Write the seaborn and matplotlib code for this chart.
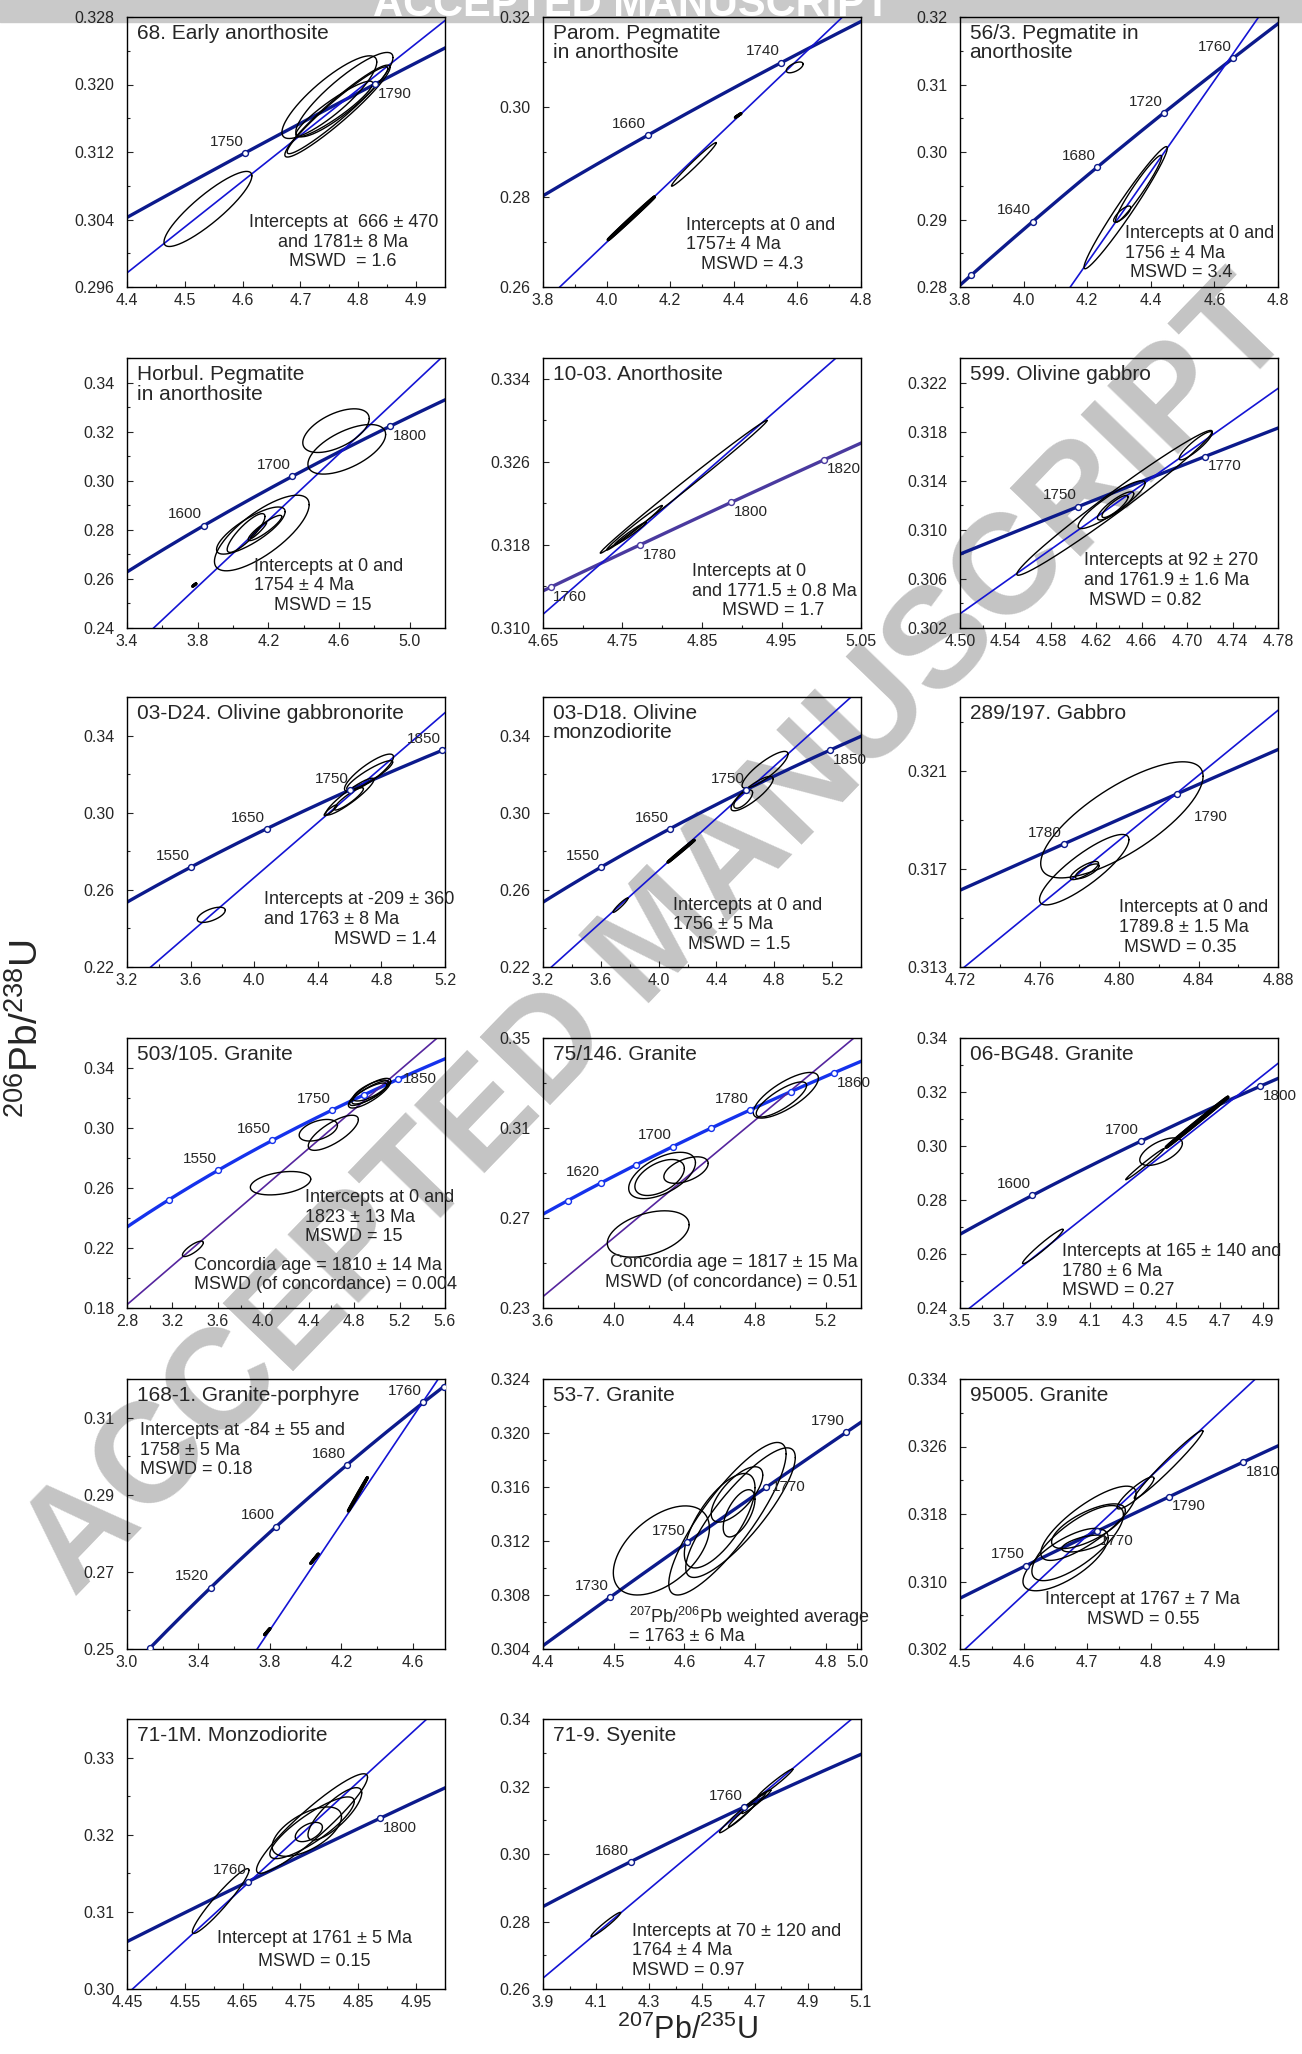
import numpy as np
import pandas as pd
import matplotlib
matplotlib.use("Agg")
import matplotlib.pyplot as plt
from matplotlib.ticker import AutoMinorLocator
import seaborn as sns

# U decay constants, 1/Ma
L238 = 1.55125e-4
L235 = 9.8485e-4

titles = [
    "68. Early anorthosite", "Parom. Pegmatite\nin anorthosite", "56/3. Pegmatite in\nanorthosite",
    "Horbul. Pegmatite\nin anorthosite", "10-03. Anorthosite", "599. Olivine gabbro",
    "03-D24. Olivine gabbronorite", "03-D18. Olivine\nmonzodiorite", "289/197. Gabbro",
    "503/105. Granite", "75/146. Granite", "06-BG48. Granite",
    "168-1. Granite-porphyre", "53-7. Granite", "95005. Granite",
    "71-1M. Monzodiorite", "71-9. Syenite",
]

xlims = [(4.4, 4.95), (3.8, 4.8), (3.8, 4.8), (3.4, 5.2), (4.65, 5.05), (4.50, 4.78),
         (3.2, 5.2), (3.2, 5.4), (4.72, 4.88), (2.8, 5.6), (3.6, 5.4), (3.5, 4.97),
         (3.0, 4.78), (4.4, 4.85), (4.5, 5.0), (4.45, 5.0), (3.9, 5.1)]
ylims = [(0.296, 0.328), (0.26, 0.32), (0.28, 0.32), (0.24, 0.35), (0.310, 0.336), (0.302, 0.324),
         (0.22, 0.36), (0.22, 0.36), (0.313, 0.324), (0.18, 0.36), (0.23, 0.35), (0.24, 0.34),
         (0.25, 0.32), (0.304, 0.324), (0.302, 0.334), (0.30, 0.335), (0.26, 0.34)]

xticks = [
    ["4.4", "4.5", "4.6", "4.7", "4.8", "4.9"],
    ["3.8", "4.0", "4.2", "4.4", "4.6", "4.8"],
    ["3.8", "4.0", "4.2", "4.4", "4.6", "4.8"],
    ["3.4", "3.8", "4.2", "4.6", "5.0"],
    ["4.65", "4.75", "4.85", "4.95", "5.05"],
    ["4.50", "4.54", "4.58", "4.62", "4.66", "4.70", "4.74", "4.78"],
    ["3.2", "3.6", "4.0", "4.4", "4.8", "5.2"],
    ["3.2", "3.6", "4.0", "4.4", "4.8", "5.2"],
    ["4.72", "4.76", "4.80", "4.84", "4.88"],
    ["2.8", "3.2", "3.6", "4.0", "4.4", "4.8", "5.2", "5.6"],
    ["3.6", "4.0", "4.4", "4.8", "5.2"],
    ["3.5", "3.7", "3.9", "4.1", "4.3", "4.5", "4.7", "4.9"],
    ["3.0", "3.4", "3.8", "4.2", "4.6"],
    ["4.4", "4.5", "4.6", "4.7", "4.8"],
    ["4.5", "4.6", "4.7", "4.8", "4.9"],
    ["4.45", "4.55", "4.65", "4.75", "4.85", "4.95"],
    ["3.9", "4.1", "4.3", "4.5", "4.7", "4.9", "5.1"],
]
yticks = [
    ["0.296", "0.304", "0.312", "0.320", "0.328"],
    ["0.26", "0.28", "0.30", "0.32"],
    ["0.28", "0.29", "0.30", "0.31", "0.32"],
    ["0.24", "0.26", "0.28", "0.30", "0.32", "0.34"],
    ["0.310", "0.318", "0.326", "0.334"],
    ["0.302", "0.306", "0.310", "0.314", "0.318", "0.322"],
    ["0.22", "0.26", "0.30", "0.34"],
    ["0.22", "0.26", "0.30", "0.34"],
    ["0.313", "0.317", "0.321"],
    ["0.18", "0.22", "0.26", "0.30", "0.34"],
    ["0.23", "0.27", "0.31", "0.35"],
    ["0.24", "0.26", "0.28", "0.30", "0.32", "0.34"],
    ["0.25", "0.27", "0.29", "0.31"],
    ["0.304", "0.308", "0.312", "0.316", "0.320", "0.324"],
    ["0.302", "0.310", "0.318", "0.326", "0.334"],
    ["0.30", "0.31", "0.32", "0.33"],
    ["0.26", "0.28", "0.30", "0.32", "0.34"],
]
# the 53-7 panel carries a "5.0" label at its right edge
extra_xtick = {13: (4.845, "5.0")}

# lower / upper intercept ages (Ma) of the discordia; None = no line
intercepts = [(666, 1781), (0, 1757), (0, 1756), (0, 1754), (0, 1771.5), (92, 1761.9),
              (-209, 1763), (0, 1756), (0, 1789.8), (0, 1823), (0, 1817), (165, 1780),
              (-84, 1758), None, (-160, 1767), (-75, 1761), (70, 1764)]

marker_ages = [
    [1750, 1790], [1660, 1740], [1600, 1640, 1680, 1720, 1760], [1600, 1700, 1800],
    [1760, 1780, 1800, 1820], [1750, 1770], [1550, 1650, 1750, 1850], [1550, 1650, 1750, 1850],
    [1780, 1790], [1450, 1550, 1650, 1750, 1800, 1850],
    [1580, 1620, 1660, 1700, 1740, 1780, 1820, 1860], [1600, 1700, 1800],
    [1440, 1520, 1600, 1680, 1760, 1780], [1730, 1750, 1770, 1790], [1750, 1770, 1790, 1810],
    [1760, 1800], [1680, 1760],
]
labelled_ages = [
    [1750, 1790], [1660, 1740], [1640, 1680, 1720, 1760], [1600, 1700, 1800],
    [1760, 1780, 1800, 1820], [1750, 1770], [1550, 1650, 1750, 1850], [1550, 1650, 1750, 1850],
    [1780, 1790], [1550, 1650, 1750, 1850], [1620, 1700, 1780, 1860], [1600, 1700, 1800],
    [1520, 1600, 1680, 1760], [1730, 1750, 1770, 1790], [1750, 1770, 1790, 1810],
    [1760, 1800], [1680, 1760],
]

# error ellipses: (xmin, xmax, ymin, ymax, rho)
ellipses = [
    [(4.464, 4.616, 0.3008, 0.3097, 0.88), (4.668, 4.832, 0.3136, 0.3234, 0.85),
     (4.692, 4.860, 0.3138, 0.3238, 0.88), (4.673, 4.855, 0.3114, 0.3223, 0.95),
     (4.677, 4.851, 0.3118, 0.3221, 0.96), (4.692, 4.825, 0.3138, 0.3204, 0.92)],
    [(4.565, 4.618, 0.3076, 0.3100, 0.6), (4.405, 4.422, 0.2977, 0.2985, 0.999),
     (4.204, 4.345, 0.2824, 0.2921, 0.985), (4.005, 4.150, 0.2705, 0.2800, 0.999)],
    [(4.190, 4.452, 0.2827, 0.3008, 0.975), (4.289, 4.434, 0.2896, 0.2995, 0.96),
     (4.283, 4.337, 0.2896, 0.2920, 0.8)],
    [(4.395, 4.771, 0.3115, 0.3293, 0.55), (4.424, 4.864, 0.3027, 0.3229, 0.6),
     (3.895, 4.431, 0.2633, 0.2941, 0.75), (3.907, 4.295, 0.2701, 0.2893, 0.8),
     (3.967, 4.181, 0.2708, 0.2866, 0.85), (4.086, 4.276, 0.2756, 0.2859, 0.9),
     (4.100, 4.190, 0.2765, 0.2830, 0.95), (3.772, 3.790, 0.2570, 0.2580, 0.999)],
    [(4.722, 4.932, 0.3172, 0.3300, 0.997), (4.730, 4.800, 0.3175, 0.3218, 0.99),
     (4.740, 4.780, 0.3180, 0.3202, 0.98)],
    [(4.550, 4.722, 0.3063, 0.3181, 0.985), (4.693, 4.722, 0.3157, 0.3180, 0.9),
     (4.604, 4.663, 0.3101, 0.3140, 0.9), (4.621, 4.653, 0.3108, 0.3131, 0.85),
     (4.625, 4.648, 0.3110, 0.3128, 0.85)],
    [(3.642, 3.818, 0.2431, 0.2510, 0.6), (4.568, 4.876, 0.3110, 0.3304, 0.85),
     (4.582, 4.871, 0.3118, 0.3270, 0.9), (4.450, 4.753, 0.2988, 0.3179, 0.92),
     (4.503, 4.687, 0.3014, 0.3130, 0.9), (4.440, 4.520, 0.2985, 0.3040, 0.9)],
    [(4.577, 4.895, 0.3127, 0.3318, 0.85), (4.501, 4.792, 0.3010, 0.3188, 0.85),
     (4.520, 4.650, 0.3023, 0.3118, 0.7), (4.065, 4.245, 0.2744, 0.2857, 0.999),
     (3.684, 3.788, 0.2483, 0.2558, 0.95)],
    [(4.7606, 4.8423, 0.31663, 0.32136, 0.75), (4.760, 4.805, 0.31553, 0.3184, 0.85),
     (4.7755, 4.7897, 0.31656, 0.3173, 0.8), (4.778, 4.790, 0.3166, 0.3172, 0.75)],
    [(3.288, 3.472, 0.2143, 0.2246, 0.8), (3.886, 4.418, 0.2554, 0.2710, 0.35),
     (4.316, 4.653, 0.2913, 0.3057, 0.45), (4.396, 4.837, 0.2851, 0.3085, 0.75),
     (4.749, 5.123, 0.3133, 0.3331, 0.8), (4.760, 5.110, 0.3150, 0.3315, 0.85),
     (4.780, 5.090, 0.3160, 0.3300, 0.8), (4.790, 5.100, 0.3180, 0.3320, 0.75)],
    [(3.964, 4.427, 0.2526, 0.2732, 0.4), (4.085, 4.463, 0.2786, 0.2992, 0.55),
     (4.120, 4.400, 0.2800, 0.2960, 0.5), (4.284, 4.535, 0.2854, 0.2972, 0.5),
     (4.790, 5.159, 0.3144, 0.3347, 0.75), (4.807, 5.092, 0.3149, 0.3305, 0.8)],
    [(3.789, 3.977, 0.2564, 0.2692, 0.97), (4.331, 4.528, 0.2928, 0.3030, 0.6),
     (4.266, 4.443, 0.2875, 0.2990, 0.99), (4.453, 4.738, 0.2995, 0.3181, 0.999)],
    [(4.239, 4.345, 0.2858, 0.2944, 0.999), (4.028, 4.070, 0.2722, 0.2746, 0.999),
     (3.770, 3.800, 0.2537, 0.2553, 0.999)],
    [(4.4995, 4.6355, 0.3080, 0.3146, 0.5), (4.578, 4.744, 0.3080, 0.3193, 0.85),
     (4.602, 4.757, 0.3093, 0.3189, 0.85), (4.600, 4.700, 0.3100, 0.3170, 0.7),
     (4.638, 4.711, 0.3134, 0.3175, 0.7), (4.655, 4.700, 0.3123, 0.3158, 0.6)],
    [(4.774, 4.882, 0.3198, 0.3279, 0.98), (4.747, 4.805, 0.3186, 0.3224, 0.9),
     (4.627, 4.777, 0.3125, 0.3213, 0.8), (4.644, 4.760, 0.3139, 0.3192, 0.7),
     (4.599, 4.733, 0.3089, 0.3163, 0.7), (4.613, 4.757, 0.3101, 0.3190, 0.75),
     (4.660, 4.730, 0.3135, 0.3155, 0.6)],
    [(4.563, 4.661, 0.3072, 0.3156, 0.95), (4.674, 4.866, 0.3150, 0.3279, 0.93),
     (4.697, 4.843, 0.3169, 0.3249, 0.85), (4.701, 4.821, 0.3172, 0.3236, 0.6),
     (4.741, 4.788, 0.3191, 0.3216, 0.5), (4.763, 4.856, 0.3193, 0.3261, 0.8)],
    [(4.081, 4.193, 0.2755, 0.2827, 0.97), (4.566, 4.741, 0.3063, 0.3183, 0.98),
     (4.709, 4.843, 0.3168, 0.3252, 0.98), (4.600, 4.700, 0.3080, 0.3150, 0.97),
     (4.650, 4.760, 0.3120, 0.3190, 0.97)],
]

notes = [
    ["Intercepts at  666 \u00b1 470\nand 1781\u00b1 8 Ma\nMSWD  = 1.6"],
    ["Intercepts at 0 and\n1757\u00b1 4 Ma\n   MSWD = 4.3"],
    ["Intercepts at 0 and\n1756 \u00b1 4 Ma\n MSWD = 3.4"],
    ["Intercepts at 0 and\n1754 \u00b1 4 Ma\n    MSWD = 15"],
    ["Intercepts at 0\nand 1771.5 \u00b1 0.8 Ma\n      MSWD = 1.7"],
    ["Intercepts at 92 \u00b1 270\nand 1761.9 \u00b1 1.6 Ma\n MSWD = 0.82"],
    ["Intercepts at -209 \u00b1 360\nand 1763 \u00b1 8 Ma\n              MSWD = 1.4"],
    ["Intercepts at 0 and\n1756 \u00b1 5 Ma\n   MSWD = 1.5"],
    ["Intercepts at 0 and\n1789.8 \u00b1 1.5 Ma\n MSWD = 0.35"],
    ["Intercepts at 0 and\n1823 \u00b1 13 Ma\nMSWD = 15",
     "Concordia age = 1810 \u00b1 14 Ma\nMSWD (of concordance) = 0.004"],
    ["Concordia age = 1817 \u00b1 15 Ma\nMSWD (of concordance) = 0.51"],
    ["Intercepts at 165 \u00b1 140 and\n1780 \u00b1 6 Ma\nMSWD = 0.27"],
    ["Intercepts at -84 \u00b1 55 and\n1758 \u00b1 5 Ma\nMSWD = 0.18"],
    ["$^{207}$Pb/$^{206}$Pb weighted average\n= 1763 \u00b1 6 Ma"],
    ["Intercept at 1767 \u00b1 7 Ma\nMSWD = 0.55"],
    ["Intercept at 1761 \u00b1 5 Ma\nMSWD = 0.15"],
    ["Intercepts at 70 \u00b1 120 and\n1764 \u00b1 4 Ma\nMSWD = 0.97"],
]

# ---- layout / style -------------------------------------------------------
# note anchor (axes fraction x, y, ha, linespacing) for each note
note_pos = [
    [(0.68, 0.27, "center", 1.2)], [(0.45, 0.26, "left", 1.2)], [(0.52, 0.23, "left", 1.2)],
    [(0.40, 0.26, "left", 1.2)], [(0.47, 0.24, "left", 1.2)], [(0.39, 0.28, "left", 1.2)],
    [(0.43, 0.28, "left", 1.2)], [(0.41, 0.26, "left", 1.2)], [(0.50, 0.25, "left", 1.2)],
    [(0.56, 0.44, "left", 1.2), (0.21, 0.19, "left", 1.2)], [(0.99, 0.20, "right", 1.2)],
    [(0.32, 0.24, "left", 1.2)], [(0.04, 0.84, "left", 1.2)], [(0.27, 0.165, "left", 0.95)],
    [(0.575, 0.215, "center", 1.2)], [(0.59, 0.22, "center", 1.5)], [(0.28, 0.245, "left", 1.2)],
]
label_side = {(0, 1790): "lr", (3, 1800): "lr", (4, 1760): "lr", (4, 1780): "lr",
              (4, 1800): "lr", (4, 1820): "lr", (5, 1770): "lr", (7, 1850): "lr",
              (8, 1790): "lr2", (9, 1850): "r", (10, 1860): "lr", (11, 1800): "lr",
              (13, 1770): "r", (14, 1770): "lr", (14, 1790): "lr", (14, 1810): "lr",
              (15, 1800): "lr"}
side_fmt = {"ul": ((-1, 3), "right", "bottom"), "lr": ((2, -2), "left", "top"),
            "lr2": ((12, -12), "left", "top"), "r": ((4, 0), "left", "center")}

NAVY, BLUE, PURPLE, BRIGHT = "#0c1a8c", "#1414d4", "#55259e", "#1532ec"
conc_color = [NAVY] * 17
disc_color = [BLUE] * 17
conc_color[4] = "#4a3a9f"
conc_color[9] = conc_color[10] = BRIGHT
disc_color[9] = disc_color[10] = PURPLE

W_PX, H_PX = 1302, 2054
col_left = [127, 543, 960]
row_top = [17, 358, 697, 1038, 1379, 1719]
AX_W, AX_H = 318, 270

sns.set_style("ticks")
plt.rcParams["font.family"] = ["Liberation Sans Narrow", "Liberation Sans", "DejaVu Sans"]
plt.rcParams["mathtext.fontset"] = "custom"
plt.rcParams["mathtext.rm"] = "Liberation Sans"
plt.rcParams["mathtext.it"] = "Liberation Sans:italic"


def concordia(t):
    t = np.asarray(t, dtype=float)
    return np.exp(L235 * t) - 1, np.exp(L238 * t) - 1


fig = plt.figure(figsize=(W_PX / 100, H_PX / 100), dpi=100)

# watermark and header band, behind the panels
fig.patches.append(plt.Rectangle((0, 1 - 22 / H_PX), 1, 22 / H_PX, transform=fig.transFigure,
                                 color="#c9c9c9", zorder=-10))
fig.text(0.485, 1 - 16 / H_PX, "ACCEPTED MANUSCRIPT", color="white", fontsize=30,
         fontweight="bold", family="Liberation Sans", ha="center", va="baseline", zorder=-9)
fig.text(0.507, 0.543, "ACCEPTED MANUSCRIPT", color="#c4c4c4", fontsize=102,
         fontweight="bold", family="Liberation Sans", rotation=46, rotation_mode="anchor",
         ha="center", va="center", zorder=-9)

age_grid = np.linspace(1200, 2000, 500)

for i in range(17):
    r, c = divmod(i, 3)
    rect = [col_left[c] / W_PX, 1 - (row_top[r] + AX_H) / H_PX, AX_W / W_PX, AX_H / H_PX]
    ax = fig.add_axes(rect)
    ax.set_facecolor("none")

    cx, cy = concordia(age_grid)
    curve = pd.DataFrame({"x": cx, "y": cy})
    sns.lineplot(data=curve, x="x", y="y", sort=False, estimator=None,
                 color=conc_color[i], lw=2.4, ax=ax, zorder=2)

    if intercepts[i] is not None:
        xa, ya = concordia(intercepts[i][0])
        xb, yb = concordia(intercepts[i][1])
        slope = (yb - ya) / (xb - xa)
        xs = np.array([xlims[i][0] - 0.5, xlims[i][1] + 0.5])
        disc = pd.DataFrame({"x": xs, "y": yb + slope * (xs - xb)})
        sns.lineplot(data=disc, x="x", y="y", sort=False, estimator=None,
                     color=disc_color[i], lw=1.2, ax=ax, zorder=2)

    th = np.linspace(0, 2 * np.pi, 240)
    for x0, x1, y0, y1, rho in ellipses[i]:
        ex = (x0 + x1) / 2 + (x1 - x0) / 2 * np.cos(th)
        ey = (y0 + y1) / 2 + (y1 - y0) / 2 * (rho * np.cos(th) + np.sqrt(1 - rho ** 2) * np.sin(th))
        if rho >= 0.999:
            ax.fill(ex, ey, color="black", lw=2.2, zorder=3)
            ax.plot(ex, ey, color="black", lw=2.2, zorder=3)
        else:
            ax.plot(ex, ey, color="black", lw=1.0, zorder=3)

    mx, my = concordia(marker_ages[i])
    sns.scatterplot(x=mx, y=my, s=18, color="white", edgecolor=conc_color[i],
                    linewidth=1.0, ax=ax, zorder=5)
    for age in labelled_ages[i]:
        lx, ly = concordia(age)
        off, ha, va = side_fmt[label_side.get((i, age), "ul")]
        ax.annotate(str(age), (lx, ly), xytext=off, textcoords="offset points",
                    ha=ha, va=va, fontsize=11, zorder=6)

    ax.text(0.03, 0.975, titles[i], transform=ax.transAxes, ha="left", va="top",
            fontsize=15, linespacing=1.05)
    for txt, (nx, ny, nha, nls) in zip(notes[i], note_pos[i]):
        ax.text(nx, ny, txt, transform=ax.transAxes, ha=nha, va="top", fontsize=13,
                multialignment=nha, linespacing=nls)

    xt = [float(s) for s in xticks[i]]
    xl = list(xticks[i])
    if i in extra_xtick:
        xt.append(extra_xtick[i][0])
        xl.append(extra_xtick[i][1])
    ax.set_xticks(xt)
    ax.set_xticklabels(xl)
    ax.set_yticks([float(s) for s in yticks[i]])
    ax.set_yticklabels(yticks[i])
    ax.xaxis.set_minor_locator(AutoMinorLocator(2))
    ax.yaxis.set_minor_locator(AutoMinorLocator(2))
    ax.tick_params(which="both", direction="in", top=False, right=False, width=0.8,
                   labelsize=11.5)
    ax.tick_params(axis="y", pad=9)
    ax.tick_params(axis="x", pad=4)
    ax.tick_params(which="major", length=4)
    ax.tick_params(which="minor", length=2.5)
    ax.set_xlim(*xlims[i])
    ax.set_ylim(*ylims[i])
    ax.set_xlabel("")
    ax.set_ylabel("")
    for sp in ax.spines.values():
        sp.set_color("black")
        sp.set_linewidth(1.0)

fig.text(27 / W_PX, 1 - 1028 / H_PX, "$^{206}$Pb/$^{238}$U", rotation=90, ha="center",
         va="center", fontsize=28)
fig.text(688 / W_PX, 1 - 2030 / H_PX, "$^{207}$Pb/$^{235}$U", ha="center", va="center",
         fontsize=22)

fig.savefig("out.png", dpi=100)
